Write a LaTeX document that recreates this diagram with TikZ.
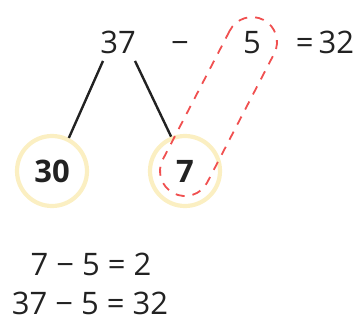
\documentclass[tikz,border=0pt]{standalone}
\usepackage{fontspec}
\setmainfont{Open Sans}
\usetikzlibrary{positioning,calc}
\definecolor{ink}{HTML}{222222}
\definecolor{ringyel}{HTML}{FBEFC2}
\definecolor{loopred}{HTML}{F05050}

\begin{document}
\begin{tikzpicture}[x=1pt,y=-1pt,
  num/.style={font=\fontsize{31}{38}\selectfont,text=ink,inner sep=1pt,anchor=base},
  ring/.style={circle,draw=ringyel,line width=4.2pt,minimum size=70pt,inner sep=0pt,font=\fontsize{31}{38}\selectfont\bfseries,text=ink},
  split/.style={draw=ink,line width=2.4pt},
  pairloop/.style={draw=loopred,line width=1.8pt,dash pattern=on 9pt off 8pt,rounded corners=25pt,minimum height=50pt,inner sep=0pt}]
\useasboundingbox (0,0) rectangle (358,322);
\node[num] (whole) at (118,53) {37};
\node[num] (minus) at (180,53) {−};
\node[num] (five) at (252,53) {5};
\node[num] (res) at (325,53) {=\,32};
\node[ring] (tens) at (52,171) {30};
\node[ring] (ones) at (185,171) {7};
\path let \p1=($(five)-(ones)$) in
  node[pairloop,minimum width={veclen(\x1,\y1)+50pt},rotate={atan2(\y1,\x1)}] (pair) at ($(ones)!0.5!(five)$) {};
\draw[split] ($(whole)+(-15,19)$) -- (tens.63);
\draw[split] ($(whole)+(17,19)$) -- (ones.112);
\node[num] (eqa) at (91,275) {7 − 5 = 2};
\node[num] (eqb) at (90,314) {37 − 5 = 32};
\end{tikzpicture}
\end{document}
